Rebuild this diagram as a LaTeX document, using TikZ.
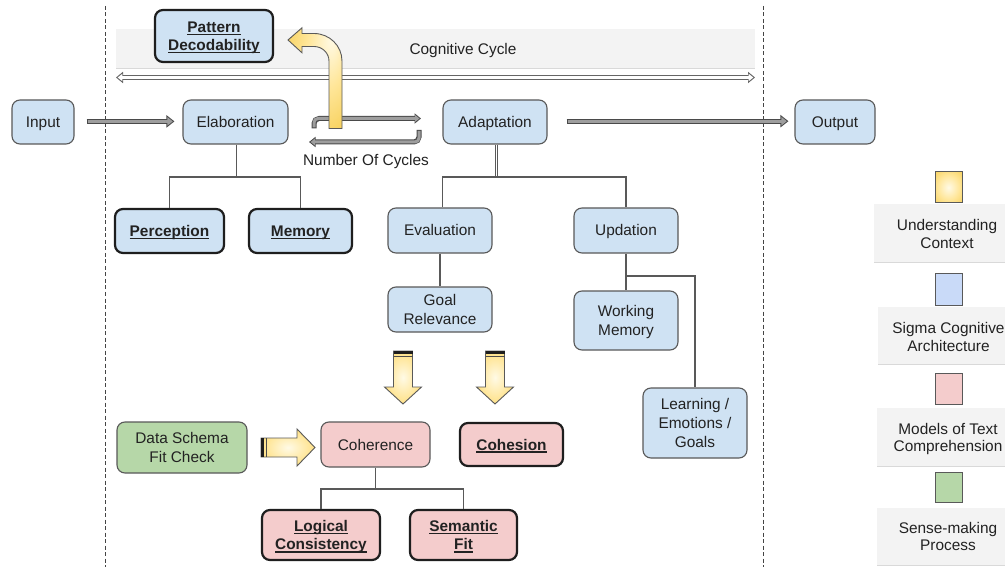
\documentclass[tikz,border=0pt]{standalone}
\usepackage{fontspec}
\setmainfont{Liberation Sans}
\usetikzlibrary{arrows.meta}
\definecolor{bfill}{HTML}{CFE2F3}
\definecolor{pfill}{HTML}{F4CCCC}
\definecolor{gfill}{HTML}{B6D7A8}
\definecolor{legblue}{HTML}{C9DAF8}
\definecolor{edge}{HTML}{595959}
\definecolor{heavyc}{HTML}{1E1E1E}
\definecolor{txt}{HTML}{222222}
\definecolor{band}{HTML}{F3F3F3}
\definecolor{bandline}{HTML}{D9D9D9}
\definecolor{ylight}{HTML}{FFFAE6}
\definecolor{ymid}{HTML}{FFE699}
\definecolor{ygold}{HTML}{F1C232}
\definecolor{arrgray}{HTML}{9E9E9E}
\definecolor{arrdark}{HTML}{4A4A4A}
\definecolor{dashc}{HTML}{444444}
\pgfdeclareradialshading{yglow}{\pgfpoint{0bp}{0bp}}{color(0bp)=(ylight); color(20bp)=(ymid); color(50bp)=(ygold)}
\pgfdeclareradialshading{yglowb}{\pgfpoint{16bp}{20bp}}{color(0bp)=(ylight); color(18bp)=(ymid); color(50bp)=(ygold)}
\newcommand\myul[1]{\setbox0\hbox{#1}\rlap{\rule[-2.6pt]{\wd0}{1.3pt}}\box0}
\newcommand\toprule{\rule{0pt}{15.3pt}}
\newcommand\botrule{\rule[-4pt]{0pt}{0pt}}
\newcommand\garrow[1]{\draw[garo] #1; \draw[gari] #1;}
\newcommand\carrow[1]{\draw[cyo] #1; \draw[cyi] #1;}
\begin{document}
\begin{tikzpicture}[x=1pt,y=-1pt,
  every node/.style={text=txt,font=\fontsize{15.4}{19}\selectfont},
  one/.style={text height=11pt,text depth=0pt},
  box/.style={draw=edge,line width=1.1pt,rounded corners=8pt,align=center,inner sep=0pt},
  bbox/.style={box,fill=bfill},
  pbox/.style={box,fill=pfill},
  gbox/.style={box,fill=gfill},
  heavy/.style={draw=heavyc,line width=2.2pt,font=\fontsize{15.4}{18.5}\selectfont\bfseries},
  sz/.style 2 args={minimum width=#1pt,minimum height=#2pt},
  tree/.style={draw=edge,line width=1.2pt},
  dbl/.style={draw=edge,line width=0.9pt,double=white,double distance=1.6pt},
  vdash/.style={draw=dashc,line width=1pt,dash pattern=on 4pt off 2.5pt},
  garo/.style={draw=arrdark,line width=5.2pt,-{Triangle[length=8pt,width=12pt]}},
  gari/.style={draw=arrgray,line width=3.2pt,shorten >=1.7pt,shorten <=1pt,-{Triangle[length=5.3pt,width=8pt]}},
  cyo/.style={draw=arrdark,line width=5pt,rounded corners=5pt,-{Triangle[length=6.5pt,width=10pt]}},
  cyi/.style={draw=arrgray,line width=3pt,rounded corners=4pt,shorten >=1.6pt,shorten <=1pt,-{Triangle[length=4.2pt,width=6.4pt]}},
  coo/.style={draw=arrdark!85,line width=5.4pt,{Triangle[length=7pt,width=11pt]}-{Triangle[length=7pt,width=11pt]}},
  coi/.style={draw=white,line width=3.2pt,shorten >=1.7pt,shorten <=1.7pt,{Triangle[length=4.6pt,width=7pt]}-{Triangle[length=4.6pt,width=7pt]}},
  yel/.style={shading=yglow,draw=edge,line width=0.9pt},
  leg/.style={align=center,font=\fontsize{15.4}{17.5}\selectfont}
]
\useasboundingbox (0,0) rectangle (1005,567);
\fill[white] (0,0) rectangle (1005,567);

% dashed borders of the cycle
\coordinate (dlt) at (105,6); \coordinate (dlb) at (105,567);
\coordinate (drt) at (763,6); \coordinate (drb) at (763,567);
\draw[vdash] (dlt) -- (dlb);
\draw[vdash] (drt) -- (drb);

% cognitive cycle band
\fill[band] (116,29) rectangle (755,69);
\draw[bandline,line width=1pt] (116,69) -- (755,69);
\node[one] (cc) at (463,49.5) {Cognitive Cycle};
\coordinate (cl) at (116,77.5); \coordinate (cr) at (755,77.5);
\draw[coo] (cl) -- (cr);
\draw[coi] (cl) -- (cr);

% main nodes
\node[bbox,one,sz={62}{44}] (input) at (43,122) {Input};
\node[bbox,one,sz={105}{44}] (elab) at (235.5,122) {Elaboration};
\node[bbox,one,sz={104}{44}] (adapt) at (495,122) {Adaptation};
\node[bbox,one,sz={80}{44}] (output) at (835,122) {Output};
\node[bbox,heavy,sz={118}{52}] (pattern) at (214,36) {\toprule\myul{Pattern}\\\myul{Decodability}\botrule};

\node[bbox,heavy,one,sz={109}{44}] (perc) at (169.5,231) {\myul{Perception}};
\node[bbox,heavy,one,sz={103}{44}] (mem) at (300.5,231) {\myul{Memory}};

\node[bbox,one,sz={104}{45}] (eval) at (440,230.5) {Evaluation};
\node[bbox,one,sz={104}{45}] (upd) at (626,230.5) {Updation};
\node[bbox,sz={104}{45}] (goal) at (440,309.5) {\toprule Goal\\Relevance\botrule};
\node[bbox,sz={104}{59}] (wm) at (626,320.5) {\toprule Working\\Memory\botrule};
\node[bbox,sz={104}{70}] (learn) at (695,423) {\toprule Learning /\\Emotions /\\Goals\botrule};

\node[gbox,sz={130}{51}] (data) at (182,447.5) {\toprule Data Schema\\Fit Check\botrule};
\node[pbox,one,sz={109}{45}] (coh) at (375.5,444.5) {Coherence};
\node[pbox,heavy,one,sz={103}{43}] (cohes) at (511.5,444.5) {\myul{Cohesion}};
\node[pbox,heavy,sz={118}{50}] (logic) at (321,535) {\toprule\myul{Logical}\\\myul{Consistency}\botrule};
\node[pbox,heavy,sz={107}{50}] (sem) at (463.5,535) {\toprule\myul{Semantic}\\\myul{Fit}\botrule};

% tree connectors
\coordinate (eb) at (236.5,177);
\draw[tree] ([xshift=1pt]elab.south) -- (eb);
\draw[tree] (perc.north) |- (eb) -| (mem.north);
\coordinate (ab) at (496.5,177);
\draw[dbl] ([xshift=1.5pt]adapt.south) -- (ab);
\draw[tree] ([xshift=2.5pt]eval.north) |- (ab) -| (upd.north);
\draw[tree] (eval.south) -- (goal.north);
\draw[tree] (upd.south) -- (wm.north);
\coordinate (ub) at (626,276);
\draw[tree] (ub) -| (learn.north);
\coordinate (chb) at (375.5,489);
\draw[tree] (coh.south) -- (chb);
\draw[tree] (logic.north) |- (chb) -| (sem.north);

% gray arrows
\garrow{([xshift=12pt,yshift=0.6pt]input.east) -- ([xshift=-8pt,yshift=0.6pt]elab.west)}
\garrow{([xshift=19pt,yshift=0.8pt]adapt.east) -- ([xshift=-6pt,yshift=0.8pt]output.west)}

% number of cycles loop
\coordinate (c1a) at (314,128.5); \coordinate (c1b) at (314,118.5); \coordinate (c1c) at (421,118.5);
\coordinate (c2a) at (419,130); \coordinate (c2b) at (419,142); \coordinate (c2c) at (309,142);
\carrow{(c1a) -- (c1b) -- (c1c)}
\carrow{(c2a) -- (c2b) -- (c2c)}
\node[one] (noc) at (366,160) {Number Of Cycles};

% yellow bent arrow to Pattern Decodability
\path[shading=yglowb,draw=edge,line width=0.9pt]
  (342,128.5) -- (342,61) .. controls (342,45.8) and (329.5,33.5) .. (314,33.5)
  -- (302,33.5) -- (302,27.8) -- (288,40) -- (302,52.8) -- (302,46.5) -- (314,46.5)
  .. controls (322.3,46.5) and (329,53) .. (329,61) -- (329,128.5) -- cycle;

% yellow down arrows
\path[yel] (393.5,351) -- (412.5,351) -- (412.5,387) -- (421.5,387) -- (403,404) -- (384.5,387) -- (393.5,387) -- cycle;
\fill[heavyc] (393.5,351) rectangle (412.5,354.3);
\draw[heavyc!80,line width=0.8pt] (393.5,356.3) -- (412.5,356.3);
\path[yel] (485.5,351) -- (504.5,351) -- (504.5,387) -- (513.5,387) -- (495,404) -- (476.5,387) -- (485.5,387) -- cycle;
\fill[heavyc] (485.5,351) rectangle (504.5,354.3);
\draw[heavyc!80,line width=0.8pt] (485.5,356.3) -- (504.5,356.3);

% yellow right arrow into Coherence
\path[yel] (261,438) -- (297,438) -- (297,429) -- (315,447.5) -- (297,466) -- (297,457) -- (261,457) -- cycle;
\fill[heavyc] (261,438) rectangle (264.3,457);
\draw[heavyc!80,line width=0.8pt] (266.3,438) -- (266.3,457);

% legend
\fill[band] (874,204) rectangle (1010,262);
\draw[bandline,line width=1pt] (874,262) -- (1010,262);
\fill[band] (878,307) rectangle (1010,364);
\draw[bandline,line width=1pt] (878,364) -- (1010,364);
\fill[band] (877,408) rectangle (1010,466);
\draw[bandline,line width=1pt] (877,466) -- (1010,466);
\fill[band] (877,508) rectangle (1010,565);
\draw[bandline,line width=1pt] (877,565) -- (1010,565);

\path[shading=yglow,draw=edge,line width=1pt] (935,172) rectangle (962,203);
\filldraw[fill=legblue,draw=edge,line width=1pt] (935,273) rectangle (962,305);
\filldraw[fill=pfill,draw=edge,line width=1pt] (935,373) rectangle (962,404);
\filldraw[fill=gfill,draw=edge,line width=1pt] (935,472) rectangle (962,502);

\node[leg] (l1) at (947,234) {\toprule Understanding\\Context\botrule};
\node[leg] (l2) at (948.5,337) {\toprule Sigma Cognitive\\Architecture\botrule};
\node[leg] (l3) at (948,437.5) {\toprule Models of Text\\Comprehension\botrule};
\node[leg] (l4) at (948,536.5) {\toprule Sense-making\\Process\botrule};
\end{tikzpicture}
\end{document}
